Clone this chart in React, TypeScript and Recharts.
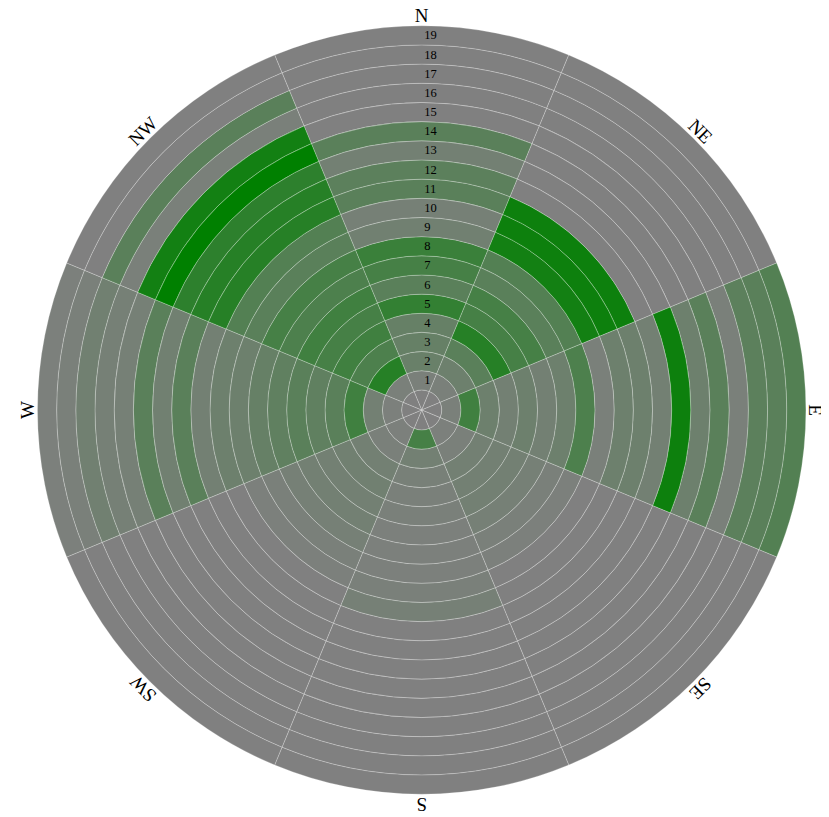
import { Cell, Pie, PieChart } from "recharts";

// directions clockwise from north, rings 1..19 outward
const directions = ["N", "NE", "E", "SE", "S", "SW", "W", "NW"];
const ringLabels = [1, 2, 3, 4, 5, 6, 7, 8, 9, 10, 11, 12, 13, 14, 15, 16, 17, 18, 19];

// intensity per ring (ring 1 first), 0 = no data, 1 = full green
const nValues = [0.05, 0.18, 0.2, 0.2, 0.6, 0.3, 0.45, 0.55, 0.12, 0.08, 0.3, 0.28, 0.1, 0.3, 0, 0, 0, 0, 0];
const neValues = [0.05, 0.15, 0.3, 0.7, 0.45, 0.45, 0.3, 0.35, 0.85, 0.9, 0.9, 0, 0, 0, 0, 0, 0, 0, 0];
const eValues = [0.05, 0.5, 0.15, 0.1, 0.15, 0.1, 0.15, 0.4, 0.05, 0.15, 0.15, 0.1, 0.9, 0.15, 0.3, 0.05, 0.28, 0.3, 0.35];
const seValues = [0.03, 0.05, 0.1, 0.1, 0.1, 0.08, 0.05, 0.03, 0, 0, 0, 0, 0, 0, 0, 0, 0, 0, 0];
const sValues = [0.45, 0.1, 0.06, 0.05, 0.05, 0.03, 0.03, 0.03, 0.05, 0.08, 0, 0, 0, 0, 0, 0, 0, 0, 0];
const swValues = [0.03, 0.05, 0.1, 0.12, 0.1, 0.1, 0.08, 0.05, 0.03, 0, 0, 0, 0, 0, 0, 0, 0, 0, 0];
const wValues = [0.03, 0.1, 0.5, 0.3, 0.25, 0.3, 0.25, 0.2, 0.15, 0.15, 0.1, 0.3, 0.12, 0.3, 0.08, 0.08, 0.12, 0.05, 0.03];
const nwValues = [0.05, 0.7, 0.4, 0.5, 0.45, 0.5, 0.4, 0.45, 0.3, 0.35, 0.7, 0.7, 0.65, 1, 0.85, 0.05, 0.3, 0, 0];

const valuesByDir = [nValues, neValues, eValues, seValues, sValues, swValues, wValues, nwValues];

const CX = 413.7;
const CY = 410;
const HOLE = 20;
const STEP = 19.17;
const START = 112.5;
const END = START - 360;
const GRID = "rgba(255,255,255,0.3)";
const FONT = "'Liberation Serif', 'Times New Roman', serif";

function cellColor(v: number) {
  const c = Math.round(128 * (1 - v));
  return `rgb(${c},128,${c})`;
}

const centerRing = directions.map((dir) => ({ dir, weight: 1, value: 0 }));
const ringData = ringLabels.map((_, i) =>
  directions.map((dir, d) => ({ dir, weight: 1, value: valuesByDir[d][i] }))
);
const dirData = directions.map((dir) => ({ dir, weight: 1 }));

const ringLabel = (ring: number) => (props: any) => {
  if (props.index !== 0) return null;
  const r = (props.innerRadius + props.outerRadius) / 2;
  return (
    <text
      x={props.cx + 2.5}
      y={props.cy - r}
      textAnchor="start"
      dominantBaseline="central"
      fontSize={12.5}
      fontFamily={FONT}
      fill="#000"
    >
      {ring}
    </text>
  );
};

const dirLabel = (props: any) => {
  const r = props.outerRadius + 10;
  const rad = (props.midAngle * Math.PI) / 180;
  const x = props.cx + r * Math.cos(rad);
  const y = props.cy - r * Math.sin(rad);
  return (
    <text
      x={x}
      y={y}
      textAnchor="middle"
      dominantBaseline="central"
      fontSize={19}
      fontFamily={FONT}
      fill="#000"
      transform={`rotate(${90 - props.midAngle}, ${x}, ${y})`}
    >
      {props.payload.dir}
    </text>
  );
};

export default function App() {
  return (
    <div style={{ marginTop: -8 }}>
      <PieChart width={821} height={817} margin={{ top: 0, right: 0, bottom: 0, left: 0 }}>
        <Pie
          data={centerRing}
          dataKey="weight"
          cx={CX}
          cy={CY}
          innerRadius={0}
          outerRadius={HOLE}
          startAngle={START}
          endAngle={END}
          stroke={GRID}
          strokeWidth={0.8}
          isAnimationActive={false}
        >
          {centerRing.map((d) => (
            <Cell key={d.dir} fill={cellColor(d.value)} />
          ))}
        </Pie>
        {ringData.map((data, i) => (
          <Pie
            key={ringLabels[i]}
            data={data}
            dataKey="weight"
            cx={CX}
            cy={CY}
            innerRadius={HOLE + i * STEP}
            outerRadius={HOLE + (i + 1) * STEP}
            startAngle={START}
            endAngle={END}
            stroke={GRID}
            strokeWidth={0.8}
            label={ringLabel(ringLabels[i])}
            labelLine={false}
            isAnimationActive={false}
          >
            {data.map((d) => (
              <Cell key={d.dir} fill={cellColor(d.value)} />
            ))}
          </Pie>
        ))}
        <Pie
          data={dirData}
          dataKey="weight"
          cx={CX}
          cy={CY}
          innerRadius={HOLE + 19 * STEP}
          outerRadius={HOLE + 19 * STEP}
          startAngle={START}
          endAngle={END}
          fill="none"
          stroke="none"
          label={dirLabel}
          labelLine={false}
          isAnimationActive={false}
        />
        <Pie
          data={[{ weight: 1 }]}
          dataKey="weight"
          cx={CX}
          cy={CY}
          innerRadius={0}
          outerRadius={2.5}
          fill="#fff"
          stroke="none"
          isAnimationActive={false}
        />
      </PieChart>
    </div>
  );
}
